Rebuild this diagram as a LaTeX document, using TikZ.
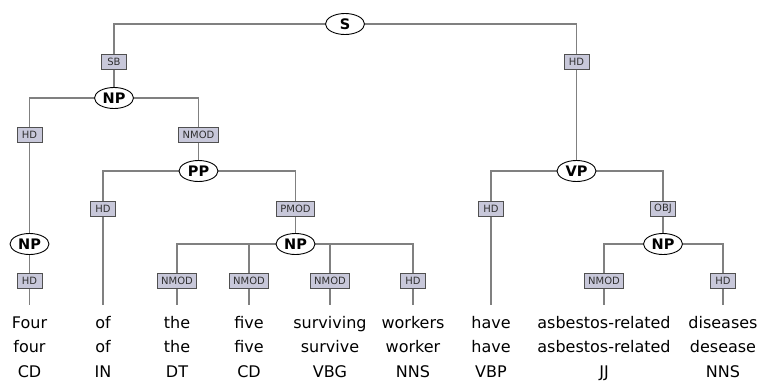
\documentclass[tikz,border=0pt]{standalone}
\usepackage{fontspec}
\setmainfont{DejaVu Sans}
\usetikzlibrary{shapes.geometric,backgrounds}
\definecolor{edgegray}{HTML}{808080}
\definecolor{boxfill}{HTML}{C8C8DA}
\definecolor{boxline}{HTML}{505050}
\definecolor{labtext}{HTML}{303030}
\tikzset{
  cat/.style={ellipse, draw=black, line width=0.9pt, fill=white,
    minimum width=39pt, minimum height=21pt, inner sep=0pt,
    font=\fontsize{14.5}{17}\selectfont\bfseries},
  rel/.style={rectangle, draw=boxline, line width=0.9pt, fill=boxfill,
    minimum width=25pt, minimum height=15pt, inner xsep=4pt, inner ysep=0pt,
    text=labtext, font=\fontsize{10}{12}\selectfont},
  word/.style={anchor=base, inner sep=0pt, text height=12pt, text depth=4pt,
    font=\fontsize{16}{19}\selectfont},
  edge/.style={draw=edgegray, line width=1.3pt},
  leaf/.style={edge, shorten >=11pt}
}
\begin{document}
\begin{tikzpicture}[x=1pt,y=-1pt]
\useasboundingbox (0,0) rectangle (761,381);

% phrase nodes
\node[cat] (S)   at (345,24)  {S};
\node[cat] (np1) at (114,98)  {NP};
\node[cat] (np2) at (29.5,244) {NP};
\node[cat] (pp)  at (198.5,171) {PP};
\node[cat] (np3) at (295.5,244) {NP};
\node[cat] (vp)  at (576.5,171) {VP};
\node[cat] (np4) at (663,244) {NP};

% relation labels
\node[rel] (sb)    at (114,61.5)   {SB};
\node[rel] (hdS)   at (576.5,61.5) {HD};
\node[rel] (hd1)   at (29.5,134.5) {HD};
\node[rel] (nmod1) at (198.5,134.5) {NMOD};
\node[rel] (hd2)   at (29.5,281)   {HD};
\node[rel] (hd3)   at (103,209)    {HD};
\node[rel] (pmod)  at (295.5,209)  {PMOD};
\node[rel] (nmod2) at (177,281)    {NMOD};
\node[rel] (nmod3) at (249,281)    {NMOD};
\node[rel] (nmod4) at (330,281)    {NMOD};
\node[rel] (hd4)   at (413,281)    {HD};
\node[rel] (hd5)   at (491,209)    {HD};
\node[rel] (obj)   at (663,209)    {OBJ};
\node[rel] (nmod5) at (604,281)    {NMOD};
\node[rel] (hd6)   at (723,281)    {HD};

% tokens: word form, lemma, tag
\foreach \n/\x/\w/\l/\t in {
  1/29.5/Four/four/CD, 2/103/of/of/IN, 3/177/the/the/DT,
  4/249/five/five/CD, 5/330/surviving/survive/VBG, 6/413/workers/worker/NNS,
  7/491/have/have/VBP, 8/604/asbestos-related/asbestos-related/JJ,
  9/723/diseases/desease/NNS}{
  \node[word] (w\n)  at (\x,328) {\w};
  \node[word] (l\n)  at (\x,352) {\l};
  \node[word] (t\n)  at (\x,377) {\t};
}

% tree edges
\begin{pgfonlayer}{background}
\draw[edge] (S) -| (sb) -- (np1);
\draw[edge] (S) -| (hdS) -- (vp);
\draw[edge] (np1) -| (hd1) -- (np2);
\draw[edge] (np1) -| (nmod1) -- (pp);
\draw[edge] (np2) -- (hd2);
\draw[leaf] (hd2) -- (w1.north);
\draw[edge] (pp) -| (hd3);
\draw[leaf] (hd3) -- (w2.north);
\draw[edge] (pp) -| (pmod) -- (np3);
\draw[edge] (np3) -| (nmod2);
\draw[leaf] (nmod2) -- (w3.north);
\draw[edge] (np3) -| (nmod3);
\draw[leaf] (nmod3) -- (w4.north);
\draw[edge] (np3) -| (nmod4);
\draw[leaf] (nmod4) -- (w5.north);
\draw[edge] (np3) -| (hd4);
\draw[leaf] (hd4) -- (w6.north);
\draw[edge] (vp) -| (hd5);
\draw[leaf] (hd5) -- (w7.north);
\draw[edge] (vp) -| (obj) -- (np4);
\draw[edge] (np4) -| (nmod5);
\draw[leaf] (nmod5) -- (w8.north);
\draw[edge] (np4) -| (hd6);
\draw[leaf] (hd6) -- (w9.north);
\end{pgfonlayer}
\end{tikzpicture}
\end{document}
